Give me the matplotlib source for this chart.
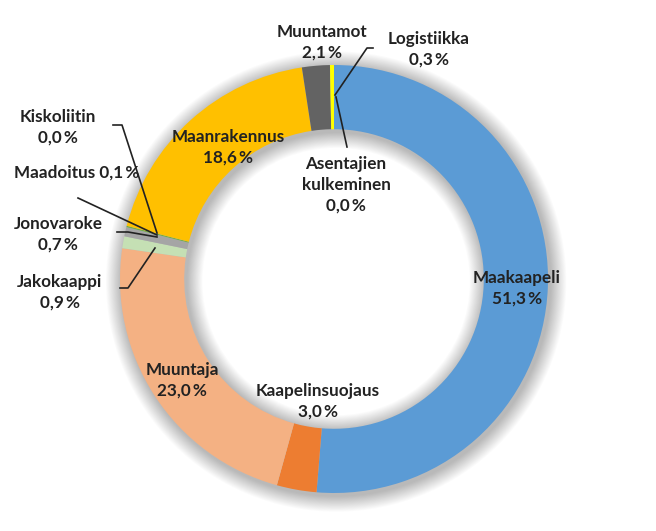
import matplotlib
matplotlib.use("Agg")
import matplotlib.pyplot as plt
from matplotlib.patches import Wedge

# ---- data ----
categories = ["Maakaapeli", "Kaapelinsuojaus", "Muuntaja", "Jakokaappi", "Jonovaroke",
              "Maadoitus", "Kiskoliitin", "Maanrakennus", "Muuntamot",
              "Asentajien\nkulkeminen", "Logistiikka"]
values = [51.3, 3.0, 23.0, 0.9, 0.7, 0.1, 0.0, 18.6, 2.1, 0.0, 0.3]
colors = ["#5B9BD5", "#ED7D31", "#F4B183", "#C5E0B4", "#A5A5A5", "#70AD47",
          "#4472C4", "#FFC000", "#636363", "#264478", "#FFFF00"]

# label layout (pixel coords, centre of text block) and leader lines
label_pos = {
    "Maakaapeli": (517, 288),
    "Kaapelinsuojaus": (318, 401),
    "Muuntaja": (182, 380),
    "Jakokaappi": (60, 292),
    "Jonovaroke": (58, 234),
    "Maadoitus": (77, 173),
    "Kiskoliitin": (58, 127),
    "Maanrakennus": (228, 147),
    "Muuntamot": (322, 42),
    "Asentajien\nkulkeminen": (346, 185),
    "Logistiikka": (429, 49),
}
one_line = {"Maadoitus"}
leaders = [
    [(373, 48), (367, 48), (335, 95)],
    [(336, 97), (347, 147)],
    [(113, 125), (122, 125), (157, 233)],
    [(78, 198), (157, 235)],
    [(117, 232), (128, 232), (157, 237)],
    [(120, 288), (128, 288), (155, 248)],
]

W, H = 656, 531
cx, cy, R = 334, 279, 214

fig = plt.figure(figsize=(W / 100, H / 100), dpi=100)
fig.patch.set_facecolor("white")
ax = fig.add_axes([0, 0, 1, 1])
ax.set_axis_off()

# soft shadow
n = 18
for i in range(n):
    d = (i + 1) * 0.9 / R
    ax.add_patch(Wedge((0.01, -0.012), 1 + d, 0, 360, width=0.3 + 2 * d,
                       facecolor="black", edgecolor="none", alpha=0.016, zorder=0))

ax.pie(values, colors=colors, startangle=90, counterclock=False, radius=1,
       wedgeprops=dict(width=0.3, edgecolor="none", zorder=2))
ax.set_xlim(-cx / R, (W - cx) / R)
ax.set_ylim(-(H - cy) / R, cy / R)
ax.set_aspect("auto")

ov = fig.add_axes([0, 0, 1, 1], facecolor="none")
ov.set_xlim(0, W)
ov.set_ylim(H, 0)
ov.set_axis_off()

for cat, v in zip(categories, values):
    x, y = label_pos[cat]
    pct = f"{v:.1f}".replace(".", ",") + "\u2009%"
    sep = " " if cat in one_line else "\n"
    ov.text(x, y, cat + sep + pct, ha="center", va="center", fontsize=12.3,
            fontweight="bold", family=["Lato", "DejaVu Sans"], color="#222222",
            linespacing=1.36)

for pts in leaders:
    xs, ys = zip(*pts)
    ov.plot(xs, ys, color="#222222", lw=1.2)

fig.savefig("out.png", dpi=100, facecolor="white")
